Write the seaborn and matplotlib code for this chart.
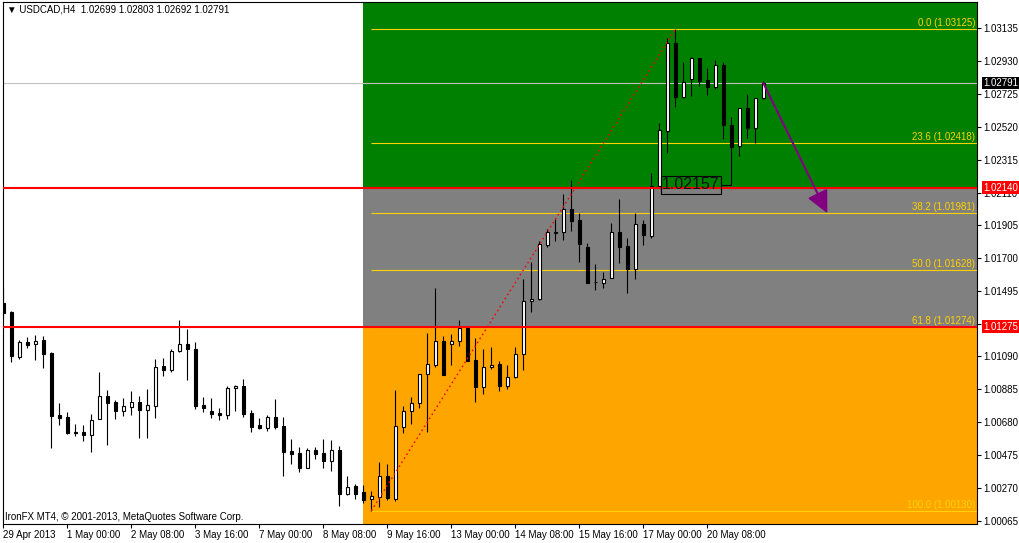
import numpy as np
import pandas as pd
import seaborn as sns
import matplotlib.pyplot as plt

sns.set_theme(style='white')
plt.rcParams['font.family'] = ['Liberation Sans', 'DejaVu Sans']

# USDCAD H4 candles (oldest first)
opens = [1.01422, 1.01366, 1.01086, 1.01180, 1.01167, 1.01192, 1.01112, 1.00726, 1.00713, 1.00620,
         1.00620, 1.00601, 1.00701, 1.00844, 1.00807, 1.00751, 1.00776, 1.00807, 1.00757, 1.00782,
         1.01030, 1.01006, 1.01124, 1.01167, 1.01136, 1.00788, 1.00751, 1.00738, 1.00726, 1.00893,
         1.00906, 1.00738, 1.00664, 1.00645, 1.00713, 1.00657, 1.00502, 1.00489, 1.00396, 1.00508,
         1.00489, 1.00440, 1.00508, 1.00233, 1.00285, 1.00245, 1.00203, 1.00214, 1.00346, 1.00203,
         1.00651, 1.00751, 1.00800, 1.00981, 1.01037, 1.01186, 1.01167, 1.01186, 1.01267, 1.01068,
         1.00899, 1.01024, 1.01043, 1.00906, 1.00962, 1.01106, 1.01435, 1.01447, 1.01783, 1.01855,
         1.01863, 1.02007, 1.01938, 1.01771, 1.01553, 1.01547, 1.01578, 1.01863, 1.01777, 1.01635,
         1.01914, 1.01839, 1.02150, 1.02492, 1.03039, 1.02704, 1.02816, 1.02946, 1.02809, 1.02766,
         1.02904, 1.02529, 1.02399, 1.02635, 1.02511, 1.02699]
highs = [1.01522, 1.01373, 1.01192, 1.01211, 1.01223, 1.01217, 1.01118, 1.00800, 1.00744, 1.00670,
         1.00664, 1.00732, 1.00993, 1.00881, 1.00819, 1.00831, 1.00875, 1.00844, 1.00887, 1.01074,
         1.01080, 1.01136, 1.01317, 1.01261, 1.01180, 1.00838, 1.00831, 1.00769, 1.00906, 1.00912,
         1.00950, 1.00757, 1.00707, 1.00726, 1.00825, 1.00713, 1.00577, 1.00527, 1.00520, 1.00527,
         1.00577, 1.00570, 1.00533, 1.00346, 1.00297, 1.00291, 1.00253, 1.00434, 1.00421, 1.00881,
         1.00782, 1.00838, 1.00981, 1.01236, 1.01516, 1.01217, 1.01230, 1.01317, 1.01273, 1.01205,
         1.01136, 1.01149, 1.01062, 1.01037, 1.01149, 1.01573, 1.01677, 1.01807, 1.01883, 1.01945,
         1.02100, 1.02188, 1.01982, 1.01795, 1.01666, 1.01615, 1.01920, 1.02069, 1.01826, 1.01982,
         1.01938, 1.02231, 1.02542, 1.03071, 1.03125, 1.02921, 1.02952, 1.02946, 1.02884, 1.02935,
         1.02921, 1.02580, 1.02635, 1.02722, 1.02697, 1.02803]
lows = [1.01329, 1.01055, 1.01074, 1.01142, 1.01068, 1.01018, 1.00520, 1.00664, 1.00610, 1.00598,
        1.00564, 1.00496, 1.00699, 1.00539, 1.00701, 1.00720, 1.00726, 1.00585, 1.00585, 1.00707,
        1.00968, 1.00993, 1.01118, 1.00944, 1.00763, 1.00744, 1.00707, 1.00695, 1.00701, 1.00751,
        1.00713, 1.00620, 1.00639, 1.00626, 1.00639, 1.00346, 1.00421, 1.00371, 1.00394, 1.00452,
        1.00396, 1.00377, 1.00159, 1.00231, 1.00203, 1.00179, 1.00130, 1.00152, 1.00197, 1.00191,
        1.00617, 1.00670, 1.00769, 1.00620, 1.01024, 1.00975, 1.01037, 1.01155, 1.01062, 1.00807,
        1.00856, 1.01012, 1.00875, 1.00887, 1.00956, 1.01006, 1.01366, 1.01441, 1.01769, 1.01807,
        1.01814, 1.01870, 1.01677, 1.01547, 1.01504, 1.01516, 1.01578, 1.01671, 1.01484, 1.01573,
        1.01783, 1.01826, 1.02138, 1.02355, 1.02639, 1.02697, 1.02710, 1.02774, 1.02716, 1.02752,
        1.02443, 1.02157, 1.02335, 1.02449, 1.02419, 1.02692]
closes = [1.01360, 1.01093, 1.01180, 1.01161, 1.01186, 1.01106, 1.00720, 1.00707, 1.00617, 1.00617,
          1.00601, 1.00695, 1.00844, 1.00800, 1.00751, 1.00782, 1.00807, 1.00757, 1.00788, 1.01024,
          1.01006, 1.01124, 1.01167, 1.01136, 1.00782, 1.00769, 1.00732, 1.00726, 1.00893, 1.00906,
          1.00732, 1.00651, 1.00645, 1.00713, 1.00651, 1.00496, 1.00483, 1.00396, 1.00508, 1.00483,
          1.00440, 1.00508, 1.00233, 1.00278, 1.00233, 1.00197, 1.00221, 1.00346, 1.00210, 1.00657,
          1.00751, 1.00800, 1.00981, 1.01043, 1.01186, 1.00975, 1.01186, 1.01267, 1.01062, 1.00899,
          1.01024, 1.01037, 1.00906, 1.00962, 1.01106, 1.01435, 1.01447, 1.01789, 1.01862, 1.01863,
          1.02007, 1.01932, 1.01788, 1.01547, 1.01553, 1.01573, 1.01862, 1.01771, 1.01635, 1.01914,
          1.01845, 1.02150, 1.02498, 1.03039, 1.02704, 1.02797, 1.02946, 1.02803, 1.02766, 1.02904,
          1.02529, 1.02392, 1.02635, 1.02511, 1.02697, 1.02791]

time_labels = ['29 Apr 2013', '1 May 00:00', '2 May 08:00', '3 May 16:00', '7 May 00:00', '8 May 08:00',
               '9 May 16:00', '13 May 00:00', '14 May 08:00', '15 May 16:00', '17 May 00:00', '20 May 08:00']
label_bars = [0, 8, 16, 24, 32, 40, 48, 56, 64, 72, 80, 88]

price_ticks = [1.03135, 1.02930, 1.02725, 1.02520, 1.02315, 1.02110, 1.01905, 1.01700,
               1.01495, 1.01290, 1.01090, 1.00885, 1.00680, 1.00475, 1.00270, 1.00065]

resistance = 1.02140
support = 1.01275
zone_start_bar = 45
fib_names = ['0.0', '23.6', '38.2', '50.0', '61.8', '100.0']
fib_prices = [1.03125, 1.02418, 1.01981, 1.01628, 1.01274, 1.00130]
arrow_target_bar = 103

df = pd.DataFrame({'open': opens, 'high': highs, 'low': lows, 'close': closes})
df['x'] = np.arange(len(df))
df['up'] = df['close'] >= df['open']

fig = plt.figure(figsize=(10.2, 5.43), dpi=100)
ax = fig.add_axes([2.7 / 1020, 19 / 543, 974.6 / 1020, 522 / 543])
ax.set_facecolor('white')
x_max = 121.75
ax.set_xlim(-0.075, x_max)
ax.set_ylim(1.00048, 1.03295)

# coloured zones
x0 = zone_start_bar - 0.07
ax.fill_between([x0, x_max + 1], resistance, 1.04, color='#008000', lw=0, zorder=0.5)
ax.fill_between([x0, x_max + 1], support, resistance, color='#808080', lw=0, zorder=0.5)
ax.fill_between([x0, x_max + 1], 0.99, support, color='#FFA500', lw=0, zorder=0.5)

# fibonacci levels from the swing low to the swing high
low_bar = int(df['low'].idxmin())
high_bar = int(df['high'].idxmax())
fib_col = '#FFD200'
ax.hlines(fib_prices, low_bar, x_max + 1, color=fib_col, lw=0.8, zorder=1)
for name, p in zip(fib_names, fib_prices):
    ax.annotate(f'{name} ({p:.5f})', xy=(1, p), xycoords=ax.get_yaxis_transform(),
                xytext=(-2, 1), textcoords='offset pixels', ha='right', va='bottom',
                fontsize=7, color=fib_col, zorder=2)

# current price line
ax.axhline(closes[-1], color='#C0C0C0', lw=0.8, zorder=1)

# candles
ax.vlines(df['x'], df['low'], df['high'], color='black', lw=0.8, zorder=3)
ax.bar(df['x'], df['close'] - df['open'], bottom=df['open'], width=0.42,
       color=np.where(df['up'], 'white', 'black'), edgecolor='black', linewidth=0.8, zorder=4)

# support / resistance
ax.axhline(resistance, color='red', lw=1.5, zorder=5)
ax.axhline(support, color='red', lw=1.5, zorder=5)

# dotted trend line swing low -> swing high
ax.plot([low_bar, high_bar], [df['low'][low_bar], df['high'][high_bar]], color='red',
        lw=1, linestyle=(0, (1.2, 2.2)), zorder=6)

# projected move arrow
ax.annotate('', xy=(arrow_target_bar, fib_prices[2]), xytext=(df['x'].iloc[-1], closes[-1]),
            arrowprops=dict(arrowstyle='-|>,head_length=0.45,head_width=0.22', color='#800080',
                            lw=1.5, mutation_scale=30, shrinkA=0, shrinkB=0), zorder=7)

# price label on the last swing low
pl_bar = 91
pl_price = lows[pl_bar]
ax.text(pl_bar - 5.04, pl_price, f'{pl_price:.5f}', fontsize=11.5, ha='center', va='center',
        color='#111111', zorder=8,
        bbox=dict(boxstyle='square,pad=0.08', fc='none', ec='black', lw=0.8))
ax.plot([pl_bar - 1.2, pl_bar], [pl_price, pl_price], color='black', lw=0.8, zorder=8)

# axes styling
for s in ax.spines.values():
    s.set_color('black')
    s.set_linewidth(0.8)
ax.yaxis.tick_right()
ax.set_yticks(price_ticks)
ax.set_yticklabels([f'{v:.5f}' for v in price_ticks])
ax.set_xticks(label_bars)
ax.set_xticklabels(time_labels, ha='left')
ax.tick_params(axis='y', right=True, left=False, length=3, width=0.8, pad=1.5,
               labelsize=7, colors='black', direction='out')
ax.tick_params(axis='x', bottom=True, length=3, width=0.8, pad=1,
               labelsize=7, colors='black', direction='out')
ax.grid(False)

# price tags on the right scale
for p, fc in [(resistance, 'red'), (support, 'red'), (closes[-1], 'black')]:
    ax.annotate(f'{p:.5f}', xy=(1, p), xycoords=ax.get_yaxis_transform(), xytext=(6, 0),
                textcoords='offset pixels', ha='left', va='center', fontsize=7, color='white',
                annotation_clip=False, zorder=10,
                bbox=dict(boxstyle='square,pad=0.15', fc=fc, ec='none'))

fig.text(7 / 1020, 1 - 10 / 543,
         f'\u25bc USDCAD,H4  {opens[-1]:.5f} {highs[-1]:.5f} {lows[-1]:.5f} {closes[-1]:.5f}',
         fontsize=7, va='center', ha='left', color='black')
fig.text(5 / 1020, 1 - 517 / 543, 'IronFX MT4, \u00a9 2001-2013, MetaQuotes Software Corp.',
         fontsize=7, va='center', ha='left', color='black')

fig.savefig('out.png', dpi=100)
